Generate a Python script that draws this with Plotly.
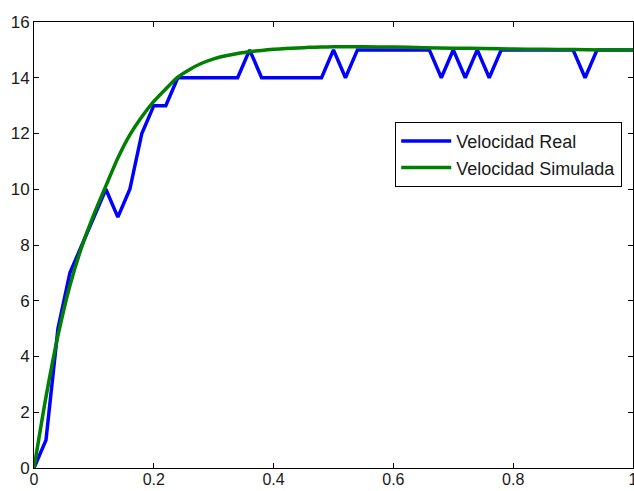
import plotly.graph_objects as go

# Velocidad Real (sampled every 0.02 s)
t_real = [round(i * 0.02, 2) for i in range(51)]
v_real = [0, 1, 5, 7, 8, 9, 10, 9, 10, 12,
          13, 13, 14, 14, 14, 14, 14, 14, 15, 14,
          14, 14, 14, 14, 14, 15, 14, 15, 15, 15,
          15, 15, 15, 15, 14, 15, 14, 15, 14, 15,
          15, 15, 15, 15, 15, 15, 14, 15, 15, 15,
          15]

# Velocidad Simulada
t_sim = [0, 0.02, 0.04, 0.06, 0.08, 0.10, 0.12, 0.14, 0.16, 0.18,
         0.20, 0.22, 0.24, 0.26, 0.28, 0.30, 0.32, 0.34, 0.36, 0.38,
         0.40, 0.42, 0.44, 0.46, 0.48, 0.50, 0.55, 0.60, 0.65, 0.70,
         0.75, 0.80, 0.85, 0.90, 0.95, 1.00]
v_sim = [0, 2.55, 4.75, 6.55, 7.95, 9.1, 10.12, 11.12, 11.95, 12.6,
         13.15, 13.6, 14.02, 14.3, 14.52, 14.68, 14.79, 14.87, 14.93, 14.98,
         15.02, 15.05, 15.07, 15.09, 15.1, 15.11, 15.11, 15.1, 15.08, 15.06,
         15.05, 15.03, 15.02, 15.01, 15.0, 15.0]

x_ticks = [0, 0.2, 0.4, 0.6, 0.8, 1]
x_labels = ["0", "0.2", "0.4", "0.6", "0.8", "1"]
y_ticks = list(range(0, 17, 2))

font = "Liberation Sans, Arial, Helvetica, sans-serif"

fig = go.Figure()
fig.add_trace(go.Scatter(x=t_real, y=v_real, mode="lines", name="Velocidad Real",
                         line=dict(color="#0000FF", width=3.5)))
fig.add_trace(go.Scatter(x=t_sim, y=v_sim, mode="lines", name="Velocidad Simulada",
                         line=dict(color="#008000", width=3.5, shape="spline", smoothing=0.6)))

axis_common = dict(showgrid=False, zeroline=False, showline=True, linecolor="black",
                   linewidth=1, mirror="ticks", ticks="inside", ticklen=5,
                   tickcolor="black", tickwidth=1, automargin=False,
                   ticklabeloverflow="allow")

fig.update_layout(
    width=634, height=491,
    template="none",
    paper_bgcolor="white", plot_bgcolor="white",
    margin=dict(l=34, r=1, t=22, b=23),
    showlegend=True,
    legend=dict(x=0.982, y=0.776, xanchor="right", yanchor="top",
                bgcolor="white", bordercolor="black", borderwidth=1,
                font=dict(family=font, size=18, color="#1a1a1a"),
                itemwidth=50, tracegroupgap=0),
    xaxis=dict(range=[0, 1], tickvals=x_ticks, ticktext=x_labels,
               tickfont=dict(family=font, size=16, color="#1a1a1a"),
               ticklabelstandoff=-3, **axis_common),
    yaxis=dict(range=[0, 16], tickvals=y_ticks,
               tickfont=dict(family=font, size=17, color="#1a1a1a"),
               **axis_common),
)

fig.write_html("out.html")
